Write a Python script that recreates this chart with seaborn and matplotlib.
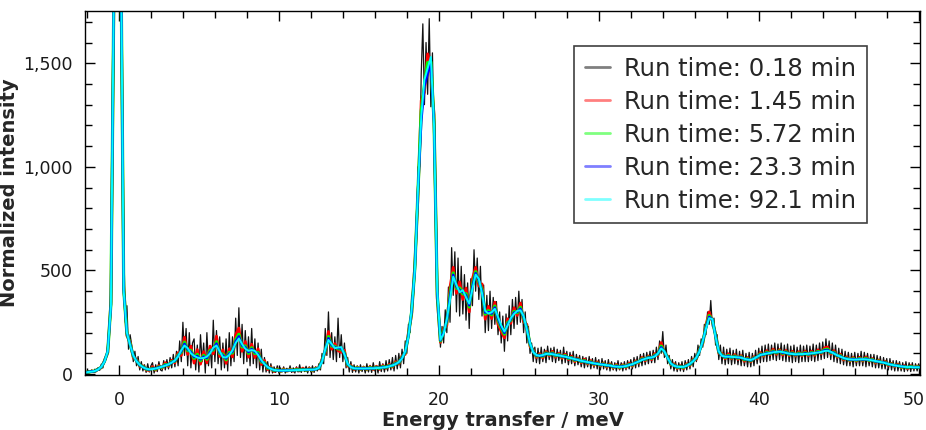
import numpy as np
import pandas as pd
import matplotlib
matplotlib.use("Agg")
import matplotlib.pyplot as plt
import seaborn as sns
from matplotlib.ticker import MultipleLocator, FuncFormatter
from matplotlib.lines import Line2D
from matplotlib.transforms import ScaledTranslation

# ---------------- data ----------------
run_labels = ["Run time: 0.18 min", "Run time: 1.45 min", "Run time: 5.72 min",
              "Run time: 23.3 min", "Run time: 92.1 min"]
line_colors = ["#000000", "#ff0000", "#00ff00", "#0000ff", "#00ffff"]

# coarse energy grid: -2.1 meV to 50.1 meV in 0.2 meV steps (262 points)
energy = np.round(-2.1 + 0.2 * np.arange(262), 2)
# fine energy grid for the noisy 0.18 min run: 0.1 meV steps (523 points)
energy_fine = np.round(-2.1 + 0.1 * np.arange(523), 2)

# longest run (92.1 min): essentially the noise-free spectrum
intensity_92min = [
    8, 10, 12, 15, 22, 35, 60, 110, 330, 2000,
    6000, 2300, 400, 200, 140, 90, 62, 45, 33, 26,
    23, 24, 27, 31, 36, 41, 47, 55, 66, 85,
    115, 138, 125, 100, 88, 80, 76, 78, 84, 100,
    128, 138, 110, 82, 80, 92, 115, 150, 172, 145,
    122, 112, 116, 112, 92, 68, 48, 34, 25, 20,
    18, 17, 17, 18, 18, 19, 19, 20, 20, 21,
    21, 21, 23, 30, 60, 120, 165, 145, 125, 128,
    130, 95, 50, 33, 28, 27, 27, 27, 27, 28,
    28, 29, 30, 32, 34, 37, 42, 48, 58, 75,
    110, 180, 310, 500, 900, 1240, 1420, 1475, 1530, 1200,
    400, 165, 195, 265, 360, 470, 430, 395, 405, 370,
    340, 410, 480, 460, 390, 305, 292, 298, 315, 275,
    235, 205, 235, 270, 290, 305, 308, 280, 215, 150,
    105, 92, 88, 92, 97, 98, 96, 93, 90, 87,
    84, 80, 76, 72, 68, 64, 61, 58, 55, 52,
    49, 47, 45, 43, 41, 38, 36, 35, 36, 39,
    43, 48, 54, 61, 68, 74, 78, 80, 85, 100,
    124, 110, 78, 52, 40, 36, 34, 35, 40, 50,
    62, 80, 110, 160, 220, 270, 265, 180, 110, 88,
    84, 84, 83, 82, 81, 79, 74, 70, 68, 74,
    84, 92, 96, 99, 102, 105, 107, 108, 106, 102,
    99, 97, 96, 96, 97, 97, 98, 100, 102, 104,
    107, 111, 113, 108, 99, 91, 84, 78, 73, 71,
    70, 70, 71, 72, 71, 69, 66, 63, 60, 57,
    53, 49, 45, 42, 39, 37, 35, 34, 34, 33, 33, 33,
]

# deviations of the intermediate runs from the 92.1 min spectrum
dev_23min = [
    0, 0, 1, -1, 1, -1, 1, -1, 4, -15,
    30, -20, 5, -3, 3, -2, 2, -2, 1, -1,
    -1, 2, -1, 2, -1, 2, -2, 2, -2, 3,
    -5, 8, -6, 7, -6, 7, -5, 6, -6, 7,
    -6, 9, -5, 7, -5, 6, -6, 8, 10, -7,
    7, -6, 5, -6, 6, -4, 3, -2, 2, -1,
    1, -1, 1, -1, 1, -1, 1, -1, 1, -1,
    1, -1, 1, -1, 2, -3, 8, -5, 4, -3,
    -5, 4, -2, 2, -1, 1, -1, 1, -1, 1,
    -1, 2, -1, 2, -1, 2, -1, 2, -2, 3,
    -3, 4, -5, 6, -7, -20, -30, -25, -35, 10,
    -7, -2, 5, -6, 12, 9, -8, 10, -9, 9,
    -8, 10, 7, -7, 9, -8, 7, -6, 6, -7,
    -6, -6, 6, -5, 6, -4, 7, -5, 5, -3,
    3, -2, 2, -3, 2, -2, 3, -2, 2, -2,
    2, -2, 2, -2, 2, -2, 2, -2, 2, -2,
    2, -1, 2, -2, 1, -2, 2, -1, 2, -1,
    2, -2, 2, -1, 2, -2, 2, -2, 3, -2,
    5, -2, 2, -1, 2, -2, 1, -1, 2, -2,
    2, -2, 2, -3, 3, 6, -2, 3, -2, 2,
    -2, 3, -2, 2, -2, 2, -2, 2, -2, 2,
    -2, 2, -2, 3, -2, 3, -2, 2, -3, 2,
    -2, 2, -2, 2, -2, 3, -2, 2, -2, 2,
    -2, 3, 3, -2, 3, -2, 2, -2, 2, -2,
    2, -1, 2, -2, 2, -1, 2, -2, 1, -1,
    2, -1, 1, -1, 2, -1, 1, -1, 1, -1, 1, -1,
]

dev_5min = [
    1, -1, 1, -1, 2, -2, 2, -3, 8, -30,
    60, -40, 10, -6, 6, -5, 4, -3, 3, -2,
    -2, 4, -3, 4, -3, 5, -4, 5, -4, 7,
    -10, 16, -12, 14, -12, 15, -11, 12, -12, 14,
    -12, 18, -10, 14, -11, 12, -13, 16, 20, -14,
    14, -12, 11, -13, 12, -9, 7, -5, 4, -3,
    3, -2, 3, -2, 2, -2, 3, -2, 3, -2,
    3, -2, 3, -2, 5, -7, 16, -10, 9, -6,
    -10, 8, -5, 4, -2, 3, -2, 2, -2, 3,
    -2, 4, -3, 4, -2, 4, -3, 5, -4, 6,
    -6, 8, -10, 12, -14, 30, -25, 28, -24, 20,
    -14, -5, 10, -12, 24, 18, -16, 20, -18, 18,
    -16, 20, 14, -14, 18, -16, 14, -12, 13, -14,
    -12, -12, 13, -10, 12, -9, 14, -11, 10, -7,
    6, -5, 4, -6, 5, -4, 6, -5, 4, -4,
    5, -4, 4, -5, 4, -4, 4, -4, 4, -4,
    4, -3, 4, -4, 3, -4, 4, -3, 4, -3,
    4, -4, 4, -3, 5, -4, 4, -4, 6, -4,
    11, -4, 4, -3, 4, -4, 3, -3, 4, -4,
    4, -4, 5, -6, 7, 12, -4, 6, -4, 5,
    -4, 6, -4, 5, -4, 4, -5, 4, -4, 4,
    -4, 5, -4, 6, -4, 6, -5, 4, -6, 5,
    -4, 5, -4, 5, -4, 6, -4, 4, -5, 5,
    -4, 6, 7, -5, 6, -4, 5, -4, 4, -4,
    4, -3, 4, -4, 5, -3, 4, -4, 3, -3,
    4, -3, 3, -2, 4, -3, 2, -3, 3, -2, 2, -2,
]

dev_1min = [
    2, -2, 3, -3, 4, -5, 6, -8, 20, -80,
    150, -100, 25, -15, 15, -12, 10, -8, 7, -6,
    -6, 12, -8, 10, -7, 14, -10, 12, -12, 18,
    -25, 40, -30, 35, -35, 38, -28, 30, -30, 35,
    -30, 45, -25, 35, -28, 30, -32, 40, 50, -35,
    35, -30, 28, -32, 30, -22, 18, -12, 10, -8,
    7, -5, 8, -4, 6, -5, 8, -5, 9, -4,
    8, -6, 7, -5, 12, -18, 40, -25, 22, -15,
    -25, 20, -12, 10, -6, 7, -5, 6, -5, 8,
    -6, 9, -7, 10, -6, 10, -8, 12, -10, 14,
    -15, 20, -25, 30, -35, 80, -60, 70, -60, 50,
    -35, -12, 25, -30, 60, 45, -40, 50, -45, 45,
    -40, 50, 35, -35, 45, -40, 35, -30, 32, -35,
    -30, -30, 32, -25, 30, -22, 35, -28, 25, -18,
    14, -12, 11, -14, 12, -10, 14, -12, 10, -11,
    12, -10, 11, -12, 9, -10, 11, -9, 10, -10,
    10, -8, 9, -10, 8, -9, 10, -7, 9, -8,
    10, -9, 10, -8, 12, -10, 9, -10, 14, -10,
    28, -10, 9, -7, 10, -9, 7, -8, 10, -9,
    10, -9, 12, -14, 18, 30, -10, 14, -10, 12,
    -10, 14, -9, 12, -10, 10, -12, 10, -9, 10,
    -10, 12, -10, 14, -9, 15, -12, 10, -14, 12,
    -10, 13, -9, 12, -10, 14, -10, 11, -12, 13,
    -10, 15, 18, -12, 14, -10, 12, -10, 10, -9,
    10, -8, 10, -9, 12, -7, 9, -10, 8, -7,
    9, -8, 7, -6, 9, -7, 6, -8, 7, -5, 6, -4,
]

# shortest run (0.18 min), full values on the 0.1 meV grid
intensity_0min = [
    12, 5, 16, 8, 20, 10, 24, 12, 30, 18,
    48, 30, 75, 70, 140, 200, 420, 1200, 1900, 4000,
    6000, 4100, 2200, 1300, 650, 250, 330, 120, 190, 140,
    60, 110, 40, 85, 20, 60, 15, 45, 8, 50,
    10, 40, 55, 5, 45, 12, 60, 20, 15, 65,
    20, 70, 25, 80, 30, 95, 35, 110, 40, 160,
    60, 250, 90, 220, 40, 200, 30, 150, 170, 20,
    140, 10, 190, 60, 150, 5, 200, 40, 130, 30,
    260, 60, 210, 50, 180, 20, 150, 30, 170, 15,
    200, 40, 180, 60, 270, 90, 320, 80, 240, 50,
    210, 60, 180, 40, 220, 50, 170, 30, 150, 20,
    120, 10, 80, 10, 60, 5, 50, 5, 35, 8,
    40, 5, 30, 10, 35, 5, 28, 12, 40, 8,
    30, 5, 35, 10, 45, 8, 30, 12, 38, 5,
    35, 10, 40, 8, 35, 15, 50, 20, 100, 50,
    220, 90, 300, 80, 200, 70, 180, 60, 270, 80,
    190, 60, 150, 30, 80, 10, 60, 8, 45, 10,
    40, 5, 45, 12, 38, 5, 50, 10, 42, 8,
    55, 15, 40, 5, 60, 12, 50, 10, 65, 15,
    70, 20, 80, 15, 90, 25, 100, 30, 120, 50,
    160, 100, 240, 200, 380, 350, 600, 650, 1000, 1000,
    1450, 1690, 1300, 1600, 1350, 1715, 1290, 1550, 1150, 900,
    350, 300, 130, 230, 150, 310, 200, 420, 250, 610,
    380, 590, 300, 560, 280, 520, 290, 480, 260, 440,
    220, 460, 330, 600, 400, 560, 360, 520, 280, 430,
    200, 380, 210, 400, 220, 370, 240, 350, 190, 300,
    150, 280, 110, 290, 160, 330, 190, 360, 220, 370,
    240, 400, 250, 360, 200, 300, 150, 230, 100, 150,
    60, 130, 55, 125, 50, 130, 60, 120, 55, 135,
    70, 125, 60, 130, 55, 120, 65, 115, 50, 130,
    55, 110, 45, 105, 50, 110, 40, 95, 45, 90,
    35, 85, 30, 80, 35, 85, 25, 75, 30, 80,
    25, 70, 20, 75, 25, 65, 20, 70, 15, 60,
    20, 55, 15, 65, 20, 55, 15, 60, 20, 65,
    25, 70, 25, 80, 30, 85, 35, 95, 40, 100,
    45, 105, 50, 110, 55, 115, 55, 130, 70, 160,
    100, 205, 80, 140, 50, 90, 25, 70, 15, 60,
    12, 55, 15, 60, 12, 65, 20, 70, 25, 85,
    35, 100, 60, 140, 90, 170, 130, 240, 190, 300,
    240, 355, 230, 270, 140, 190, 70, 140, 50, 130,
    45, 120, 50, 125, 45, 115, 50, 120, 45, 110,
    40, 115, 40, 100, 35, 105, 35, 100, 40, 115,
    50, 125, 55, 135, 60, 140, 60, 145, 65, 140,
    70, 150, 65, 145, 70, 150, 65, 140, 60, 145,
    60, 135, 55, 140, 60, 130, 55, 140, 60, 135,
    60, 140, 60, 135, 65, 145, 60, 140, 65, 150,
    70, 155, 75, 170, 80, 160, 70, 150, 60, 140,
    55, 125, 50, 120, 45, 110, 40, 105, 40, 100,
    35, 105, 40, 100, 40, 110, 40, 105, 35, 100,
    40, 95, 35, 95, 30, 90, 30, 85, 25, 80,
    25, 75, 20, 75, 20, 65, 15, 65, 15, 60,
    15, 55, 12, 60, 15, 55, 12, 55, 15, 50,
    15, 50, 20,
]

if len(intensity_0min) != len(energy_fine):
    raise SystemExit(f"fine list length {len(intensity_0min)} != {len(energy_fine)}")
for nm, arr in [("92", intensity_92min), ("23", dev_23min), ("5", dev_5min), ("1", dev_1min)]:
    if len(arr) != len(energy):
        raise SystemExit(f"list {nm} length {len(arr)} != {len(energy)}")

# ---------------- assemble long-form table ----------------
base = np.array(intensity_92min, dtype=float)
frames = [
    pd.DataFrame({"energy": energy_fine, "intensity": intensity_0min, "run": run_labels[0]}),
    pd.DataFrame({"energy": energy, "intensity": base + np.array(dev_1min), "run": run_labels[1]}),
    pd.DataFrame({"energy": energy, "intensity": base + np.array(dev_5min), "run": run_labels[2]}),
    pd.DataFrame({"energy": energy, "intensity": base + np.array(dev_23min), "run": run_labels[3]}),
    pd.DataFrame({"energy": energy, "intensity": base, "run": run_labels[4]}),
]
df = pd.concat(frames, ignore_index=True)

# ---------------- plot ----------------
sns.set_style("ticks")
plt.rcParams["font.family"] = ["DejaVu Sans"]

fig = plt.figure(figsize=(9.26, 4.30), dpi=100)
ax = fig.add_axes([85 / 926, (430 - 374.5) / 430, 835 / 926, 363.5 / 430])

plot_colors = ["#111111", "#ff0000", "#00ff00", "#0000ff", "#00ffff"]
widths = [0.9, 2.0, 2.3, 1.8, 1.4]
for lab, col, lw in zip(run_labels, plot_colors, widths):
    sns.lineplot(data=df[df["run"] == lab], x="energy", y="intensity",
                 color=col, linewidth=lw, estimator=None, sort=False,
                 ax=ax, legend=False)

ax.set_xlim(-2.12, 50.08)
ax.set_ylim(-2, 1752)
ax.xaxis.set_major_locator(MultipleLocator(10))
ax.xaxis.set_minor_locator(MultipleLocator(2))
ax.yaxis.set_major_locator(MultipleLocator(500))
ax.yaxis.set_minor_locator(MultipleLocator(100))
ax.yaxis.set_major_formatter(FuncFormatter(lambda v, p: f"{v:,.0f}"))

ax.tick_params(which="both", direction="in", top=True, right=True,
               width=1.0, color="black", labelcolor="#1a1a1a", labelsize=12.5)
ax.tick_params(which="major", length=7.5)
ax.tick_params(which="minor", length=5)
ax.tick_params(axis="x", which="both", pad=12)
ax.tick_params(axis="y", which="both", pad=9)

for sp in ax.spines.values():
    sp.set_visible(True)
    sp.set_linewidth(1.0)
    sp.set_color("black")

ax.set_xlabel("Energy transfer / meV", fontsize=14, fontweight="bold", labelpad=1)
ax.set_ylabel("Normalized intensity", fontsize=14, fontweight="bold", labelpad=3)

handles = [Line2D([], [], color=c, alpha=0.5, linewidth=2) for c in line_colors]
leg = ax.legend(handles, run_labels, loc="upper right",
                bbox_to_anchor=(0.9365, 0.9037), borderaxespad=0,
                frameon=True, fancybox=False, framealpha=1, edgecolor="#404040",
                fontsize=17.5, labelspacing=0.366, borderpad=0.45,
                handlelength=1.03, handletextpad=0.58)
leg.get_frame().set_linewidth(1.2)

# keep the last x tick label ("50") inside the figure edge, as in the reference
fig.canvas.draw()
for tick in ax.xaxis.get_major_ticks():
    if abs(tick.get_loc() - 50) < 1e-6:
        tick.label1.set_transform(tick.label1.get_transform()
                                  + ScaledTranslation(-5 / 100, 0, fig.dpi_scale_trans))

fig.savefig("out.png", dpi=100)
